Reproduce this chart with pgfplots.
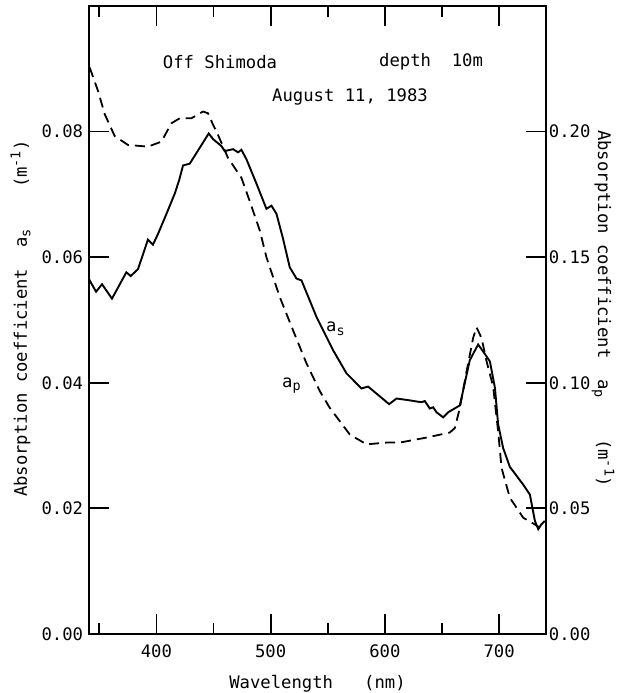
\documentclass[border=0pt]{standalone}
\usepackage{fontspec}
\setmainfont{DejaVu Sans Mono}
\usepackage{pgfplots}
\pgfplotsset{compat=1.18}

\newcommand{\mysub}[1]{\raisebox{-0.35ex}{\fontsize{13.5}{15}\selectfont #1}}
\newcommand{\mysup}[1]{\raisebox{0.7ex}{\fontsize{13.5}{15}\selectfont #1}}

\pgfplotstableread{
nm as
341 0.0565
347.2 0.0545
352.4 0.0557
361.1 0.0534
373.7 0.0576
377.5 0.0570
383.9 0.0581
392.6 0.0628
397.0 0.0620
401.4 0.0637
408.8 0.0669
416.0 0.0701
419.8 0.0722
423.3 0.0746
429.2 0.0749
445.8 0.0797
449.6 0.0788
456.9 0.0777
459.8 0.0769
467.1 0.0772
471.5 0.0767
474.4 0.0771
478.8 0.0756
487.6 0.0717
496.3 0.0677
500.7 0.0682
505.1 0.0669
510.9 0.0629
516.7 0.0584
522.6 0.0566
527.0 0.0563
540.1 0.0505
554.6 0.0452
566.4 0.0415
579.5 0.0391
585.3 0.0394
603.7 0.0366
610.2 0.0375
621.8 0.0372
632.0 0.0369
634.9 0.0371
639.3 0.0359
642.2 0.0361
645.2 0.0353
651.0 0.0345
655.3 0.0353
665.6 0.0364
674.3 0.0436
681.6 0.0461
687.5 0.0446
691.9 0.0434
696.3 0.0392
699.1 0.0334
703.5 0.0296
709.4 0.0266
721.0 0.0238
726.9 0.0222
731.3 0.0180
734.2 0.0167
737.1 0.0175
740.0 0.0180
}\asdata

\pgfplotstableread{
nm ap
341.6 0.2255
348.9 0.2162
354.7 0.2070
363.5 0.1982
375.1 0.1947
392.6 0.1940
404.4 0.1960
413.1 0.2033
420.4 0.2053
430.6 0.2053
440.8 0.2080
445.2 0.2073
449.6 0.2027
453.9 0.1987
462.7 0.1895
474.4 0.1816
481.7 0.1723
490.5 0.1606
496.3 0.1500
508.0 0.1341
519.6 0.1209
531.3 0.1078
543.0 0.0967
551.8 0.0900
569.3 0.0794
583.9 0.0755
601.4 0.0762
613.0 0.0762
636.4 0.0782
656.8 0.0802
661.2 0.0820
665.6 0.0900
671.5 0.1046
677.2 0.1178
680.2 0.1221
684.6 0.1178
689.0 0.1085
694.7 0.0986
699.1 0.0807
702.1 0.0661
709.4 0.0542
721.0 0.0463
731.3 0.0436
735.6 0.0423
}\apdata

\begin{document}
\fontsize{17.3}{20}\selectfont
\begin{tikzpicture}
\pgfplotsset{
  myaxis/.style={
    scale only axis, width=457bp, height=628bp,
    at={(0,0)}, anchor=south west,
    xmin=341, xmax=741,
    axis line style={line width=2bp},
    tick style={line width=1.8bp, black},
    major tick length=20bp, minor tick length=11bp,
    tick align=inside,
    tick label style={font=\fontsize{17.3}{20}\selectfont},
    /pgf/number format/assume math mode=true,
    scaled y ticks=false,
  }
}
\begin{axis}[myaxis,
  ymin=0, ymax=0.1,
  ytick={0,0.02,0.04,0.06,0.08},
  ytick pos=left,
  yticklabel style={/pgf/number format/.cd, fixed, fixed zerofill, precision=2},
  xtick={400,500,600,700}, minor xtick={350,450,550,650},
  xticklabel style={yshift=-5bp},
  clip=false,
]
\addplot[black, line width=1.9bp] table[x=nm, y=as] {\asdata};
\node[anchor=center] at (axis cs:455.7,0.0911) {Off Shimoda};
\node[anchor=center] at (axis cs:640.4,0.0911) {depth~~10m};
\node[anchor=center] at (axis cs:569.5,0.0855) {August 11, 1983};
\node[anchor=base west, inner sep=0pt] at (axis cs:548.4,0.0481) {a\mysub{s}};
\node[anchor=base west, inner sep=0pt] at (axis cs:509.9,0.0393) {a\mysub{p}};
\node[anchor=base west, inner sep=0pt, rotate=90] at ([xshift=-62bp]rel axis cs:0,0.218)
  {Absorption coefficient~~a\mysub{s}~~~~(m\mysup{-1})};
\node[anchor=base west, inner sep=0pt, rotate=-90] at ([xshift=52bp]rel axis cs:1,0.8025)
  {Absorption coefficient~~a\mysub{p}~~~~(m\mysup{-1})};
\node[anchor=base, inner sep=0pt] at ([yshift=-54bp]rel axis cs:0.5,0) {Wavelength~~~(nm)};
\end{axis}
\begin{axis}[myaxis,
  ymin=0, ymax=0.25,
  axis y line*=right, hide x axis,
  ytick={0,0.05,0.1,0.15,0.2},
  yticklabel style={xshift=-3bp, /pgf/number format/.cd, fixed, fixed zerofill, precision=2},
]
\addplot[black, line width=1.8bp, dash pattern=on 10bp off 6bp] table[x=nm, y=ap] {\apdata};
\end{axis}
\pgfresetboundingbox
\useasboundingbox (-89bp,-59bp) rectangle (531bp,634bp);
\end{tikzpicture}
\end{document}
